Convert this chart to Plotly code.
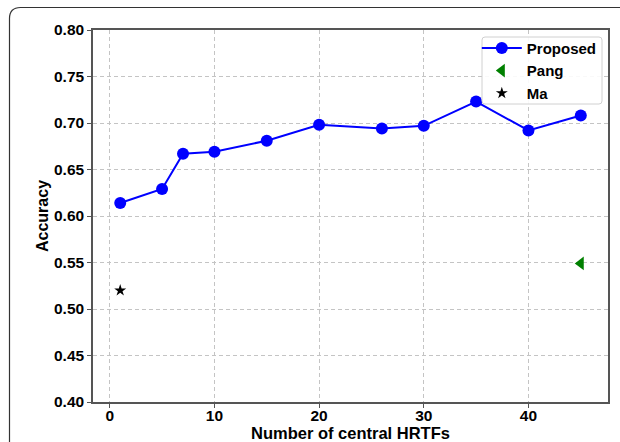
import plotly.graph_objects as go

# Accuracy vs. number of central HRTFs
num_hrtfs = [1, 5, 7, 10, 15, 20, 26, 30, 35, 40, 45]
proposed_acc = [0.614, 0.629, 0.667, 0.669, 0.681, 0.698, 0.694, 0.697, 0.723, 0.692, 0.708]
pang_x = [45]
pang_acc = [0.549]
ma_x = [1]
ma_acc = [0.520]

x_ticks = [0, 10, 20, 30, 40]
y_ticks = [0.40, 0.45, 0.50, 0.55, 0.60, 0.65, 0.70, 0.75, 0.80]

FONT = "Liberation Sans, Arial, sans-serif"
W, H = 620, 442
ML, MR, MT, MB = 93, 12, 30, 40
PW, PH = W - ML - MR, H - MT - MB

fig = go.Figure()
fig.add_trace(go.Scatter(
    x=num_hrtfs, y=proposed_acc, name="Proposed", mode="lines+markers",
    line=dict(color="#0000ff", width=2),
    marker=dict(color="#0000ff", size=12, symbol="circle"),
))
fig.add_trace(go.Scatter(
    x=pang_x, y=pang_acc, name="Pang", mode="markers",
    marker=dict(color="#008000", size=12, symbol="triangle-left"),
))
fig.add_trace(go.Scatter(
    x=ma_x, y=ma_acc, name="Ma", mode="markers",
    marker=dict(color="#000000", size=9, symbol="star"),
))

axis_common = dict(
    showline=True, mirror=True, linecolor="#555555", linewidth=1.5,
    ticks="outside", ticklen=4, tickwidth=1.2, tickcolor="#555555",
    showgrid=True, gridcolor="#c4c4c4", griddash="4px,3px", gridwidth=1,
    zeroline=False, automargin=False,
    tickfont=dict(family=FONT, size=15.5, color="#000000", weight="bold"),
)

fig.update_xaxes(range=[-1.6, 47.6], tickvals=x_ticks, ticklabelstandoff=-5,
                 **axis_common)
fig.update_yaxes(
    range=[0.40, 0.80], tickvals=y_ticks, ticktext=[f"{v:.2f}" for v in y_ticks],
    **axis_common,
)


def px_to_paper(px, py):
    """Convert a pixel position on the page to paper coordinates."""
    return (px - ML) / PW, (H - MB - py) / PH


def rounded_path(corners, r, open_rb=False):
    """Path string for a rounded rectangle given pixel corners."""
    left, top, right, bottom = corners
    def p(px, py):
        x, y = px_to_paper(px, py)
        return f"{x},{y}"
    if open_rb:
        return (f"M {p(left, bottom)} L {p(left, top + r)} "
                f"Q {p(left, top)} {p(left + r, top)} L {p(right, top)}")
    return (f"M {p(left + r, top)} L {p(right - r, top)} "
            f"Q {p(right, top)} {p(right, top + r)} L {p(right, bottom - r)} "
            f"Q {p(right, bottom)} {p(right - r, bottom)} L {p(left + r, bottom)} "
            f"Q {p(left, bottom)} {p(left, bottom - r)} L {p(left, top + r)} "
            f"Q {p(left, top)} {p(left + r, top)} Z")


shapes = [
    # outer figure frame, open towards the right and bottom edges
    dict(type="path", xref="paper", yref="paper",
         path=rounded_path((9.5, 7.5, 640, 470), 11, open_rb=True),
         line=dict(color="#333333", width=1.2), layer="below"),
    # legend box
    dict(type="path", xref="paper", yref="paper",
         path=rounded_path((482, 37, 602, 104), 3),
         fillcolor="rgba(255,255,255,0.9)",
         line=dict(color="#d0d0d0", width=1), layer="above"),
]

_, xt_y = px_to_paper(350, 432.5)
yt_x, _ = px_to_paper(42, 216)
annotations = [
    dict(text="Number of central HRTFs", xref="paper", yref="paper",
         x=0.5, y=xt_y, xanchor="center", yanchor="middle",
         showarrow=False,
         font=dict(family=FONT, size=16.5, color="#000000", weight="bold")),
    dict(text="Accuracy", xref="paper", yref="paper",
         x=yt_x, y=0.5, xanchor="center", yanchor="middle", textangle=-90,
         showarrow=False,
         font=dict(family=FONT, size=16, color="#000000", weight="bold")),
]

fig.update_layout(
    width=W, height=H,
    margin=dict(l=ML, r=MR, t=MT, b=MB, autoexpand=False),
    paper_bgcolor="white", plot_bgcolor="white",
    font=dict(family=FONT, color="#000000"),
    showlegend=True,
    legend=dict(
        x=0.988, y=0.995, xanchor="right", yanchor="top",
        bgcolor="rgba(0,0,0,0)", borderwidth=0,
        font=dict(family=FONT, size=15, color="#000000", weight="bold"),
        itemwidth=40, tracegroupgap=0,
    ),
    shapes=shapes,
    annotations=annotations,
)

fig.write_html("out.html")
